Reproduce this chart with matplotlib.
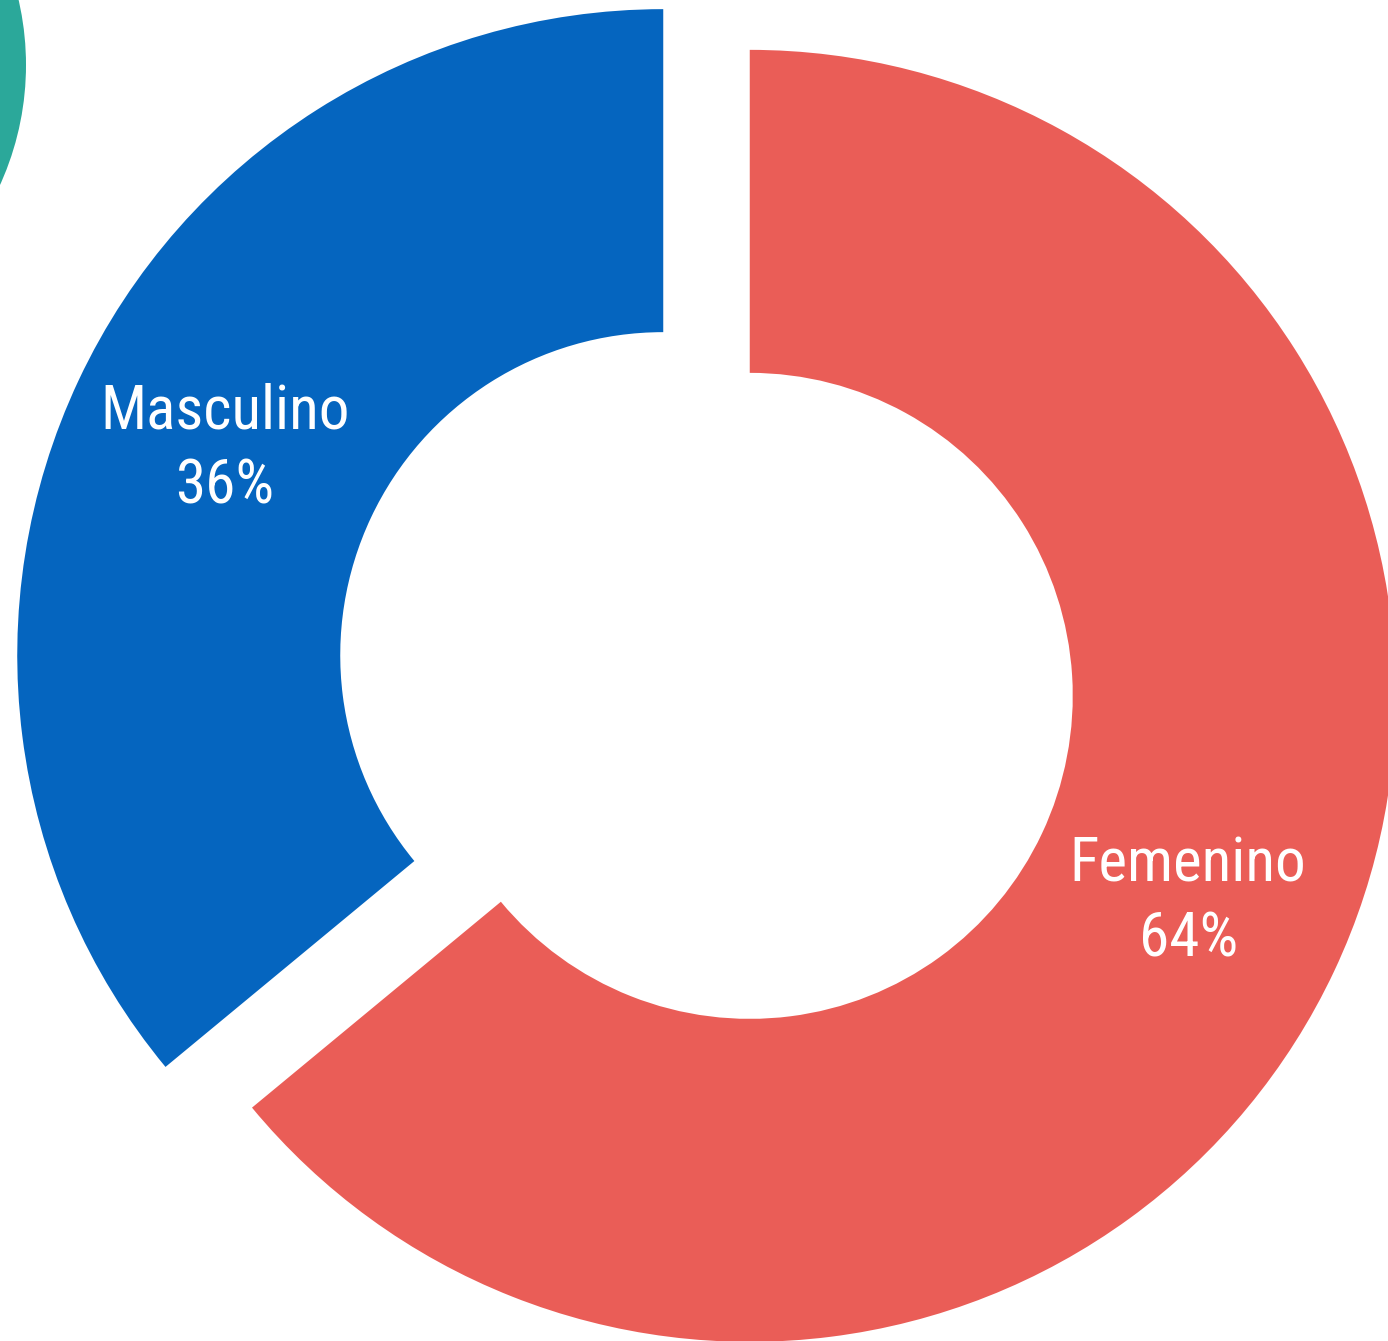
import matplotlib
matplotlib.use("Agg")
import matplotlib.pyplot as plt
from matplotlib import font_manager
from matplotlib.patches import Circle
import numpy as np

categories = ["Femenino", "Masculino"]
values = [64, 36]
colors = ["#EA5D57", "#0565BF"]

names = {f.name for f in font_manager.fontManager.ttflist}
fam = [f for f in ["Roboto Condensed", "Liberation Sans Narrow", "Open Sans Condensed", "DejaVu Sans Condensed"] if f in names]
family = fam + ["DejaVu Sans"]

W, H = 1388, 1341
fig = plt.figure(figsize=(W / 100, H / 100), dpi=100)
ax = fig.add_axes([0, 0, 1, 1])

R = 646.0
cx, cy = 706.5, 675.5

wedges, texts = ax.pie(values, colors=colors, startangle=90, counterclock=False,
                       explode=[0.074, 0.074], radius=1.0,
                       wedgeprops=dict(width=0.5, linewidth=0),
                       labels=None)
total = sum(values)
theta = 90.0
for name, v, w in zip(categories, values, wedges):
    t2 = theta - 360.0 * v / total
    tm = np.deg2rad((theta + t2) / 2)
    x0, y0 = w.center
    ax.text(x0 + 0.75 * np.cos(tm), y0 + 0.75 * np.sin(tm), f"{name}\n{v}%",
            ha="center", va="center", color="white", fontsize=44,
            family=family, linespacing=1.38)
    theta = t2

# decorative teal circle partially visible at top-left
ax.add_patch(Circle(((-264 - cx) / R, (cy - 65) / R), 290 / R, color="#2BA89A", lw=0))

ax.set_aspect("auto")
ax.set_xlim(-cx / R, (W - cx) / R)
ax.set_ylim(-(H - cy) / R, cy / R)
ax.axis("off")
fig.savefig("out.png", dpi=100, facecolor="white")
